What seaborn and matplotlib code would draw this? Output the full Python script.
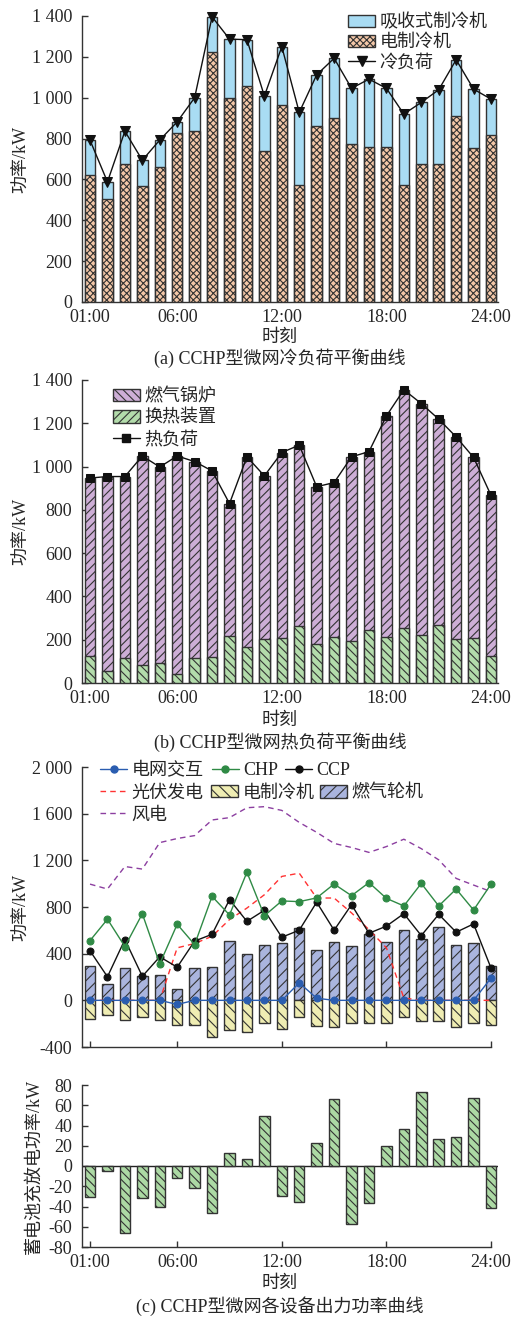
import matplotlib
matplotlib.use("Agg")
import matplotlib.pyplot as plt
import seaborn as sns
from matplotlib.patches import Patch
from matplotlib.lines import Line2D
from matplotlib.ticker import FuncFormatter, FixedLocator

sns.set_theme(style="ticks")
plt.rcParams["font.family"] = ["Liberation Serif", "Noto Sans CJK SC"]
plt.rcParams["axes.unicode_minus"] = False
plt.rcParams["hatch.linewidth"] = 0.8

# ---------------- data ----------------
hours = list(range(1, 25))
tick_hours = [1, 6, 12, 18, 24]
tick_labels = ["01:00", "06:00", "12:00", "18:00", "24:00"]

# (a) cooling balance, kW
cold_load = [792, 588, 836, 694, 793, 882, 1000, 1396, 1287, 1284, 1008, 1250,
             928, 1112, 1193, 1046, 1091, 1046, 920, 977, 1039, 1186, 1042, 993]
elec_chiller_cold = [621, 503, 674, 567, 663, 827, 836, 1225, 998, 1055, 737, 963,
                     572, 863, 903, 773, 757, 757, 574, 674, 674, 911, 752, 819]

# (b) heating balance, kW
heat_load = [947, 954, 954, 1049, 998, 1049, 1023, 980, 829, 1045, 957, 1065,
             1099, 907, 926, 1045, 1069, 1234, 1355, 1291, 1219, 1137, 1042, 867]
heat_exchanger = [123, 54, 116, 85, 93, 42, 116, 120, 216, 167, 201, 208,
                  262, 182, 213, 193, 244, 213, 255, 221, 268, 201, 208, 123]

# (c) unit outputs, kW
grid_exchange = [0, 0, 0, 0, 0, -35, 0, 0, 0, 0, 0, 0,
                 150, 18, 0, 0, 0, 0, 0, 0, 0, 0, 0, 191]
chp = [512, 695, 461, 742, 313, 652, 478, 891, 732, 1098, 725, 852,
       846, 878, 997, 897, 1009, 874, 809, 1002, 809, 954, 774, 996]
ccp = [424, 202, 521, 206, 373, 284, 508, 566, 863, 677, 772, 541,
       601, 841, 601, 820, 575, 636, 743, 555, 737, 584, 655, 276]
pv = [0, 0, 0, 0, 0, 450, 487, 549, 692, 791, 905, 1062,
      1090, 877, 877, 749, 606, 450, 20, 0, 0, 0, 0, 0]
wind = [996, 954, 1147, 1125, 1352, 1387, 1412, 1546, 1566, 1651, 1660, 1628,
        1525, 1440, 1345, 1310, 1268, 1318, 1381, 1300, 1204, 1045, 988, 932]
gas_turbine = [293, 140, 279, 207, 218, 100, 279, 289, 510, 396, 473, 493,
               620, 433, 501, 464, 572, 501, 604, 527, 629, 473, 495, 293]
elec_chiller_power = [-157, -128, -171, -145, -168, -208, -214, -310, -253, -270, -191, -242,
                      -145, -219, -228, -196, -194, -191, -145, -177, -177, -228, -191, -208]

# (c) battery charge / discharge, kW
battery = [-31, -5, -66, -32, -40, -12, -22, -46, 13, 7, 49, -30,
           -36, 23, 66, -57, -37, 20, 37, 73, 27, 29, 67, -41]

# ---------------- styling ----------------
W, H = 528, 1320
FS = 13
TXT = "#262626"
EDGE = "#333333"

C_ABS = "#a9dcf3"
C_ELC = "#f4c8a8"
C_BOIL = "#cdaed6"
C_HX = "#b3dcab"
C_GT = "#aab5de"
C_EC = "#efedb3"
C_BAT = "#acd9a4"
C_GRID = "#2a5db0"
C_CHP = "#2f8a45"
C_PV = "#ff3333"
C_WIND = "#8c3fa0"
DASH = (0, (4, 3))

fig = plt.figure(figsize=(W / 100, H / 100), dpi=100)


def add_axes(top, bottom, left=82, right=498):
    return fig.add_axes([left / W, 1 - bottom / H, (right - left) / W, (bottom - top) / H])


def bars(ax, values, face, hatch, z=2):
    sns.barplot(x=hours, y=values, ax=ax, native_scale=True, width=0.6,
                color=face, saturation=1, edgecolor=EDGE, linewidth=1.0,
                hatch=hatch, errorbar=None, zorder=z)


def line(ax, values, color, marker=None, ms=5, ls="-", lw=1.0, z=4):
    sns.lineplot(x=hours, y=values, ax=ax, color=color, marker=marker,
                 markersize=ms, markeredgecolor=color, linestyle=ls,
                 linewidth=lw, legend=False, zorder=z, errorbar=None,
                 clip_on=False)


def thousands(v, pos):
    v = int(round(v))
    s = f"{abs(v):,}".replace(",", " ")
    return ("-" if v < 0 else "") + s


def style(ax, ylim, yticks, show_x=True, bound_right=None):
    ax.set_xlim(0.54, 24.40)
    ax.set_ylim(*ylim)
    ax.yaxis.set_major_locator(FixedLocator(yticks))
    ax.yaxis.set_major_formatter(FuncFormatter(thousands))
    ax.xaxis.set_major_locator(FixedLocator(tick_hours))
    ax.set_xticklabels(tick_labels if show_x else [])
    ax.set_xlabel("")
    ax.set_ylabel("")
    for s in ("top", "right"):
        ax.spines[s].set_visible(False)
    for s in ("left", "bottom"):
        ax.spines[s].set_color(EDGE)
        ax.spines[s].set_linewidth(1.0)
    if bound_right is not None:
        ax.spines["bottom"].set_bounds(0.54, bound_right)
    ax.tick_params(direction="in", length=4, width=1.0, color=EDGE,
                   labelsize=FS, labelcolor=TXT)
    ax.tick_params(axis="y", pad=7)
    ax.tick_params(axis="x", pad=5)
    ax.grid(False)
    ax.set_facecolor("white")


def entry(handle, label, x_px, y_px, hl=1.5):
    """One legend entry placed at a fixed spot (handle's left edge, row centre)."""
    fig.legend([handle], [label], loc="center left",
               bbox_to_anchor=(x_px / W, 1 - y_px / H),
               frameon=False, borderpad=0, borderaxespad=0, handlelength=hl,
               handletextpad=0.25, fontsize=FS, handleheight=0.7,
               labelcolor=TXT)


def ftext(x_px, y_px, s, **kw):
    fig.text(x_px / W, 1 - y_px / H, s, ha="center", va="center",
             fontsize=FS, color=TXT, **kw)


def ylabel(ax, s, xcoord):
    ax.set_ylabel(s, fontsize=FS, color=TXT)
    ax.yaxis.set_label_coords(xcoord, 0.5)


# ---------------- (a) cooling ----------------
ax_a = add_axes(16, 302)
bars(ax_a, cold_load, C_ABS, None)
bars(ax_a, elec_chiller_cold, C_ELC, "xxxxx", z=3)
line(ax_a, cold_load, "#111111", marker="v", ms=7.5)
style(ax_a, (0, 1400), range(0, 1401, 200))
ylabel(ax_a, "功率/kW", -0.125)

entry(Patch(facecolor=C_ABS, edgecolor=EDGE, linewidth=1.0), "吸收式制冷机", 348, 22.7)
entry(Patch(facecolor=C_ELC, edgecolor=EDGE, hatch="xxxxx", linewidth=1.0), "电制冷机", 348, 42.7)
entry(Line2D([], [], color="#111111", marker="v", markersize=7.5, lw=1.0), "冷负荷", 348, 63.3)

ftext(280, 337, "时刻")
ftext(280, 358, "(a) CCHP型微网冷负荷平衡曲线")

# ---------------- (b) heating ----------------
ax_b = add_axes(380, 683)
bars(ax_b, heat_load, C_BOIL, "////")
bars(ax_b, heat_exchanger, C_HX, "\\\\\\\\", z=3)
line(ax_b, heat_load, "#111111", marker="s", ms=6)
style(ax_b, (0, 1400), range(0, 1401, 200))
ylabel(ax_b, "功率/kW", -0.125)

entry(Patch(facecolor=C_BOIL, edgecolor=EDGE, hatch="\\\\\\\\", linewidth=1.0), "燃气锅炉", 112.7, 396.7)
entry(Patch(facecolor=C_HX, edgecolor=EDGE, hatch="////", linewidth=1.0), "换热装置", 112.7, 418.3)
entry(Line2D([], [], color="#111111", marker="s", markersize=6, lw=1.0), "热负荷", 112.7, 440)

ftext(280, 720, "时刻")
ftext(280, 742, "(b) CCHP型微网热负荷平衡曲线")

# ---------------- (c) unit outputs ----------------
ax_c = add_axes(767, 1047)
bars(ax_c, gas_turbine, C_GT, "///")
bars(ax_c, elec_chiller_power, C_EC, "\\\\\\")
line(ax_c, wind, C_WIND, ls=DASH, z=4)
line(ax_c, pv, C_PV, ls=DASH, z=4)
line(ax_c, ccp, "#111111", marker="o", ms=5, z=5)
line(ax_c, chp, C_CHP, marker="o", ms=5, z=5)
line(ax_c, grid_exchange, C_GRID, marker="o", ms=5, z=6)
style(ax_c, (-400, 2000), range(-400, 2001, 400), show_x=False, bound_right=24)
ylabel(ax_c, "功率/kW", -0.125)

entry(Line2D([], [], color=C_GRID, marker="o", markersize=5, lw=1.0), "电网交互", 100, 770.7)
entry(Line2D([], [], color=C_CHP, marker="o", markersize=5, lw=1.0), "CHP", 211.5, 770.7)
entry(Line2D([], [], color="#111111", marker="o", markersize=5, lw=1.0), "CCP", 285, 770.7)
entry(Line2D([], [], color=C_PV, ls=DASH, lw=1.0), "光伏发电", 100, 793)
entry(Patch(facecolor=C_EC, edgecolor=EDGE, hatch="\\\\\\", linewidth=1.0), "电制冷机", 211, 793)
entry(Patch(facecolor=C_GT, edgecolor=EDGE, hatch="///", linewidth=1.0), "燃气轮机", 320, 793)
entry(Line2D([], [], color=C_WIND, ls=DASH, lw=1.0), "风电", 100, 815)

# ---------------- (c) battery ----------------
ax_d = add_axes(1085, 1247)
ax_d.axhline(0, color="#222222", lw=1.0, zorder=1)
bars(ax_d, battery, C_BAT, "\\\\\\\\")
style(ax_d, (-80, 80), range(-80, 81, 20), bound_right=24)
ylabel(ax_d, "蓄电池充放电功率/kW", -0.095)

ftext(280, 1283, "时刻")
ftext(280, 1306, "(c) CCHP型微网各设备出力功率曲线")

fig.savefig("out.png", dpi=100, facecolor="white")
